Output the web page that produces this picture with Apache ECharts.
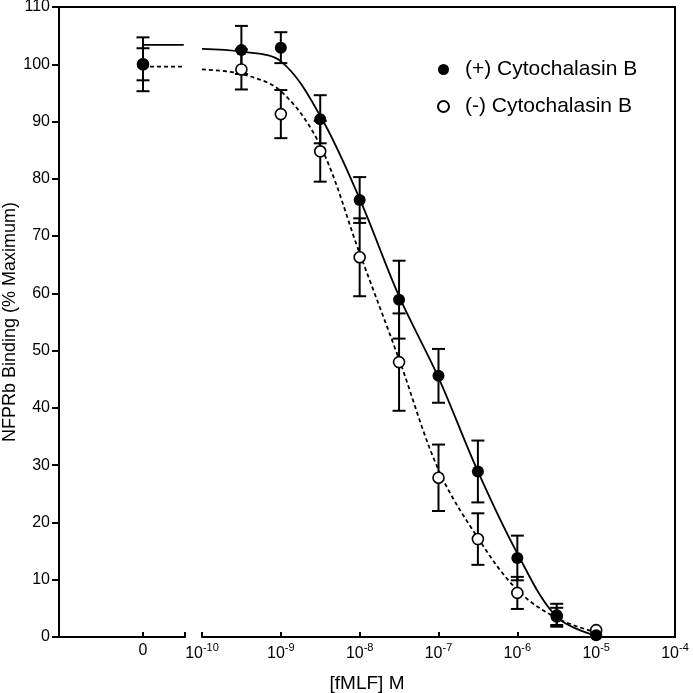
<!DOCTYPE html>
<html>
<head>
<meta charset="utf-8">
<script src="https://cdn.jsdelivr.net/npm/echarts@6/dist/echarts.min.js"></script>
<style>
html,body{margin:0;padding:0;background:#fff;}
#chart{width:693px;height:693px;}
</style>
</head>
<body>
<div id="chart"></div>
<script>
// ---- data ----
const doses = [3.16e-10, 1e-9, 3.16e-9, 1e-8, 3.16e-8, 1e-7, 3.16e-7, 1e-6, 3.16e-6, 1e-5];
const plusMean = [102.5, 102.9, 90.4, 76.3, 58.9, 45.6, 28.9, 13.8, 3.8, 0.3];
const plusSem  = [4.2, 2.7, 4.2, 4.0, 6.8, 4.7, 5.4, 3.9, 2.0, 0];
const minusMean = [99.1, 91.3, 84.8, 66.3, 48.0, 27.8, 17.1, 7.7, 3.6, 1.2];
const minusSem  = [3.5, 4.2, 5.3, 6.8, 8.5, 5.8, 4.5, 2.8, 1.5, 0];
const zeroDose = [0];
const zeroPlusMean = [100];
const zeroPlusSem = [4.7];
const zeroMinusMean = [100];
const zeroMinusSem = [2.8];
const fitDoses = [1e-10, 3.16e-10, 1e-9, 3.16e-9, 1e-8, 3.16e-8, 1e-7, 3.16e-7, 1e-6, 3.16e-6, 1e-5];
const plusFit  = [102.7, 102.2, 100.5, 91.0, 76.5, 59.5, 45.3, 28.9, 14.6, 3.5, 0.2];
const minusFit = [99.1, 98.3, 95.3, 85.8, 67.0, 48.5, 29.2, 17.3, 8.2, 3.3, 0.8];
const zeroFitX = [0, 0.97];
const zeroPlusFit = [103.4, 103.4];
const zeroMinusFit = [99.6, 99.6];
const yMin = 0, yMax = 110, yStep = 10;
const plusName = '(+) Cytochalasin B';
const minusName = '(-) Cytochalasin B';

const FONT = 'Liberation Sans, Arial, sans-serif';
const chart = echarts.init(document.getElementById('chart'));

function pairs(xs, ys) { return xs.map((x, i) => [x, ys[i]]); }
function triples(xs, ys, es) { return xs.map((x, i) => [x, ys[i], es[i]]); }

function errRender(params, api) {
  const x = api.value(0), y = api.value(1), e = api.value(2);
  if (!e) return null;
  const top = api.coord([x, y + e]);
  const bot = api.coord([x, y - e]);
  const cw = 6.5;
  const st = { stroke: '#000', lineWidth: 2 };
  return {
    type: 'group',
    children: [
      { type: 'line', shape: { x1: top[0], y1: top[1], x2: bot[0], y2: bot[1] }, style: st },
      { type: 'line', shape: { x1: top[0] - cw, y1: top[1], x2: top[0] + cw, y2: top[1] }, style: st },
      { type: 'line', shape: { x1: bot[0] - cw, y1: bot[1], x2: bot[0] + cw, y2: bot[1] }, style: st }
    ]
  };
}

const gridPos = { top: 7, bottom: 56 };
const option = {
  backgroundColor: '#fff',
  animation: false,
  textStyle: { fontFamily: FONT, color: '#000' },
  grid: [
    { left: 59, right: 18, top: gridPos.top, bottom: gridPos.bottom, containLabel: false, outerBoundsMode: 'none' },
    { left: 59, width: 126, top: gridPos.top, bottom: gridPos.bottom, containLabel: false, outerBoundsMode: 'none' },
    { left: 202, right: 18, top: gridPos.top, bottom: gridPos.bottom, containLabel: false, outerBoundsMode: 'none' }
  ],
  legend: {
    orient: 'vertical',
    left: 432,
    top: 54,
    itemWidth: 11,
    itemHeight: 11,
    itemGap: 16,
    textStyle: { fontSize: 21, fontFamily: FONT, color: '#000', padding: [0, 0, 0, 11] },
    data: [{ name: plusName, icon: 'circle' }, { name: minusName, icon: 'circle' }]
  },
  xAxis: [
    { gridIndex: 0, type: 'value', position: 'top', min: 0, max: 1,
      axisLine: { show: true, onZero: false, lineStyle: { color: '#000', width: 2 } },
      axisTick: { show: false }, axisLabel: { show: false }, splitLine: { show: false } },
    { gridIndex: 0, type: 'value', position: 'bottom', min: 0, max: 1,
      name: '[fMLF] M', nameLocation: 'middle', nameGap: 37, nameMoveOverlap: false,
      nameTextStyle: { fontSize: 19, fontFamily: FONT, color: '#000' },
      axisLine: { show: false, onZero: false }, axisTick: { show: false }, axisLabel: { show: false }, splitLine: { show: false } },
    { gridIndex: 1, type: 'value', min: -2, max: 1,
      axisLine: { show: true, onZero: false, lineStyle: { color: '#000', width: 2 } },
      axisTick: { show: true, inside: true, length: 5, customValues: [0, 1], lineStyle: { color: '#000', width: 2 } },
      axisLabel: { show: true, customValues: [0], margin: 6, fontSize: 16, fontFamily: FONT, color: '#000' },
      splitLine: { show: false } },
    { gridIndex: 2, type: 'log', logBase: 10, min: 1e-10, max: 1e-4,
      axisLine: { show: true, onZero: false, lineStyle: { color: '#000', width: 2 } },
      axisTick: { show: true, inside: true, length: 5, lineStyle: { color: '#000', width: 2 } },
      minorTick: { show: false },
      axisLabel: {
        show: true, margin: 5, fontFamily: FONT, color: '#000',
        formatter: function (v) {
          const e = Math.round(Math.log10(v));
          return '{b|10}{s|' + e + '}';
        },
        rich: {
          b: { fontSize: 16, fontFamily: FONT, color: '#000', lineHeight: 20, verticalAlign: 'bottom' },
          s: { fontSize: 11, fontFamily: FONT, color: '#000', lineHeight: 20, verticalAlign: 'top', padding: [0, 0, 10, 0] }
        }
      },
      splitLine: { show: false } }
  ],
  yAxis: [
    { gridIndex: 0, type: 'value', min: yMin, max: yMax, interval: yStep,
      name: 'NFPRb Binding (% Maximum)', nameLocation: 'middle', nameGap: 40, nameMoveOverlap: false,
      nameTextStyle: { fontSize: 18, fontFamily: FONT, color: '#000' },
      axisLine: { show: true, onZero: false, lineStyle: { color: '#000', width: 2 } },
      axisTick: { show: true, length: 7, lineStyle: { color: '#000', width: 2 } },
      axisLabel: { fontSize: 16, margin: 9, fontFamily: FONT, color: '#000' },
      splitLine: { show: false } },
    { gridIndex: 0, type: 'value', position: 'right', min: yMin, max: yMax, interval: yStep,
      axisLine: { show: true, onZero: false, lineStyle: { color: '#000', width: 2 } },
      axisTick: { show: false }, axisLabel: { show: false }, splitLine: { show: false } },
    { gridIndex: 1, type: 'value', min: yMin, max: yMax, show: false },
    { gridIndex: 2, type: 'value', min: yMin, max: yMax, show: false }
  ],
  series: [
    // zero segment
    { type: 'custom', xAxisIndex: 2, yAxisIndex: 2, renderItem: errRender, data: triples(zeroDose, zeroMinusMean, zeroMinusSem), z: 2, silent: true },
    { type: 'custom', xAxisIndex: 2, yAxisIndex: 2, renderItem: errRender, data: triples(zeroDose, zeroPlusMean, zeroPlusSem), z: 2, silent: true },
    { type: 'line', xAxisIndex: 2, yAxisIndex: 2, data: pairs(zeroFitX, zeroPlusFit), showSymbol: false, symbol: 'none',
      lineStyle: { color: '#000', width: 1.8 }, z: 3, silent: true },
    { type: 'line', xAxisIndex: 2, yAxisIndex: 2, data: pairs(zeroFitX, zeroMinusFit), showSymbol: false, symbol: 'none',
      lineStyle: { color: '#000', width: 1.8, type: [4, 3] }, z: 3, silent: true },
    { type: 'scatter', name: minusName, xAxisIndex: 2, yAxisIndex: 2, data: pairs(zeroDose, zeroMinusMean), symbol: 'circle', symbolSize: 11,
      itemStyle: { color: '#fff', borderColor: '#000', borderWidth: 1.6, opacity: 1 }, z: 4 },
    { type: 'scatter', name: plusName, xAxisIndex: 2, yAxisIndex: 2, data: pairs(zeroDose, zeroPlusMean), symbol: 'circle', symbolSize: 12,
      itemStyle: { color: '#000', opacity: 1 }, z: 5 },
    // log segment
    { type: 'custom', xAxisIndex: 3, yAxisIndex: 3, renderItem: errRender, data: triples(doses, minusMean, minusSem), z: 2, silent: true },
    { type: 'custom', xAxisIndex: 3, yAxisIndex: 3, renderItem: errRender, data: triples(doses, plusMean, plusSem), z: 2, silent: true },
    { type: 'line', xAxisIndex: 3, yAxisIndex: 3, data: pairs(fitDoses, plusFit), showSymbol: false, symbol: 'none', smooth: 0.35,
      lineStyle: { color: '#000', width: 1.8 }, z: 3, silent: true },
    { type: 'line', xAxisIndex: 3, yAxisIndex: 3, data: pairs(fitDoses, minusFit), showSymbol: false, symbol: 'none', smooth: 0.35,
      lineStyle: { color: '#000', width: 1.8, type: [4, 3] }, z: 3, silent: true },
    { type: 'scatter', name: minusName, xAxisIndex: 3, yAxisIndex: 3, data: pairs(doses, minusMean), symbol: 'circle', symbolSize: 11,
      itemStyle: { color: '#fff', borderColor: '#000', borderWidth: 1.6, opacity: 1 }, z: 4 },
    { type: 'scatter', name: plusName, xAxisIndex: 3, yAxisIndex: 3, data: pairs(doses, plusMean), symbol: 'circle', symbolSize: 12,
      itemStyle: { color: '#000', opacity: 1 }, z: 5 }
  ]
};
chart.setOption(option);
</script>
</body>
</html>
